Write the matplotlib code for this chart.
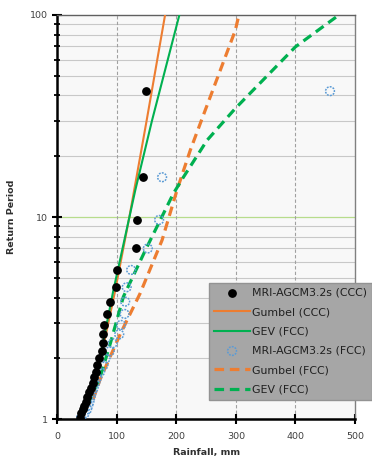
import matplotlib.pyplot as plt
from matplotlib.ticker import FixedLocator, NullFormatter

# return periods of the plotted annual maxima (rank 1 ... 25)
return_period = [42.0, 15.75, 9.69, 7.0, 5.48, 4.5, 3.82, 3.32, 2.93, 2.63, 2.38, 2.17, 2.0,
                 1.85, 1.72, 1.61, 1.52, 1.43, 1.36, 1.29, 1.22, 1.17, 1.12, 1.07, 1.02]

# rainfall, mm
rain_ccc = [149, 144, 134, 132, 101, 99, 88, 84, 79, 77.5, 76, 74.7, 70, 67, 65,
            62, 59.5, 56.5, 54, 50.5, 48, 45.5, 43, 40, 38.2]
rain_fcc = [458, 176, 171, 152, 124, 116.5, 114, 113, 107, 104, 93, 88, 81, 77.5, 72,
            67, 64, 61, 58, 56, 54, 52, 50, 46, 40]

# fitted curves: (rainfall, return period)
gumbel_ccc_x = [40, 44, 73, 97, 121, 150, 181]
gumbel_ccc_t = [1.01, 1.1, 2.0, 4.3, 10, 30, 100]
gev_ccc_x = [38, 44, 72, 94, 131, 159, 205]
gev_ccc_t = [1.01, 1.1, 2.03, 4.32, 13.6, 30, 100]
gumbel_fcc_x = [60, 72, 106, 139, 176, 201, 223.5, 248.6, 299, 305]
gumbel_fcc_t = [1.25, 1.58, 2.65, 4.19, 7.7, 13.6, 21.5, 33.9, 84, 100]
gev_fcc_x = [40, 52, 72, 89, 111, 148, 195, 212, 251.5, 299, 400, 473]
gev_fcc_t = [1.02, 1.2, 1.62, 2.37, 4.04, 6.87, 13.1, 15.8, 24, 34.5, 69.6, 100]

orange = '#ed7d31'
green = '#00b050'
blue = '#5b9bd5'

fig = plt.figure(figsize=(3.72, 4.58), dpi=100)
ax = fig.add_axes([57.3 / 372, 1 - 419.3 / 458, (355 - 57.3) / 372, (419.3 - 15) / 458])
ax.set_facecolor('#f8f8f8')

ax.scatter(rain_ccc, return_period, s=28, color='black', zorder=5,
           label='MRI-AGCM3.2s (CCC)')
ax.plot(gumbel_ccc_x, gumbel_ccc_t, color=orange, lw=1.5, zorder=3, label='Gumbel (CCC)')
ax.plot(gev_ccc_x, gev_ccc_t, color=green, lw=1.5, zorder=3, label='GEV (FCC)')
ax.scatter(rain_fcc, return_period, s=40, facecolors='none', edgecolors=blue,
           linewidths=1.1, linestyles=(0, (1.2, 0.8)), zorder=4, label='MRI-AGCM3.2s (FCC)')
ax.plot(gumbel_fcc_x, gumbel_fcc_t, color=orange, lw=2.3, dashes=(3, 1.8), zorder=3,
        label='Gumbel (FCC)')
ax.plot(gev_fcc_x, gev_fcc_t, color=green, lw=2.3, dashes=(3, 1.8), zorder=3,
        label='GEV (FCC)')

ax.set_yscale('log')
ax.set_xlim(0, 500)
ax.set_ylim(1, 100)

ax.set_xticks([0, 100, 200, 300, 400, 500])
ax.yaxis.set_major_locator(FixedLocator([1, 10, 100]))
ax.set_yticklabels(['1', '10', '100'])
minor = [m * d for d in (1, 10) for m in range(2, 10)]
ax.yaxis.set_minor_locator(FixedLocator(minor))
ax.yaxis.set_minor_formatter(NullFormatter())

# grid
for t in minor:
    ax.axhline(t, color='#c8c8c8', lw=0.8, zorder=1)
ax.axhline(10, color='#b7dc8c', lw=0.9, zorder=1)
for x in [100, 200, 300, 400]:
    ax.axvline(x, color='#a0a0a0', lw=0.8, ls=(0, (3, 2)), zorder=1)

ax.spines['left'].set_linewidth(1.8)
ax.spines['bottom'].set_linewidth(1.8)
ax.spines['top'].set_color('#606060')
ax.spines['top'].set_linewidth(1.0)
ax.spines['right'].set_color('#808080')
ax.spines['right'].set_linewidth(1.0)

ax.tick_params(axis='both', which='major', direction='inout', length=7, width=1.5,
               labelsize=6.8, labelcolor='#404040', pad=3)
ax.tick_params(axis='y', which='minor', direction='inout', length=5, width=1.3)
ax.tick_params(axis='x', pad=6)

ax.set_xlabel('Rainfall, mm', fontsize=6.8, fontweight='bold', color='#303030', labelpad=5)
ax.set_ylabel('Return Period', fontsize=6.8, fontweight='bold', color='#303030', labelpad=10)

leg = ax.legend(loc='upper left', bbox_to_anchor=(209 / 372, 1 - 283 / 458),
                bbox_transform=fig.transFigure, borderaxespad=0, fontsize=7.9,
                frameon=True, fancybox=False, facecolor='#a6a6a6', edgecolor='#939393',
                framealpha=1, handlelength=3.3, handletextpad=0.15, labelspacing=0.85,
                borderpad=0.45)
for txt in leg.get_texts():
    txt.set_color('#202020')
leg.set_zorder(10)

fig.savefig('out.png', dpi=100)
